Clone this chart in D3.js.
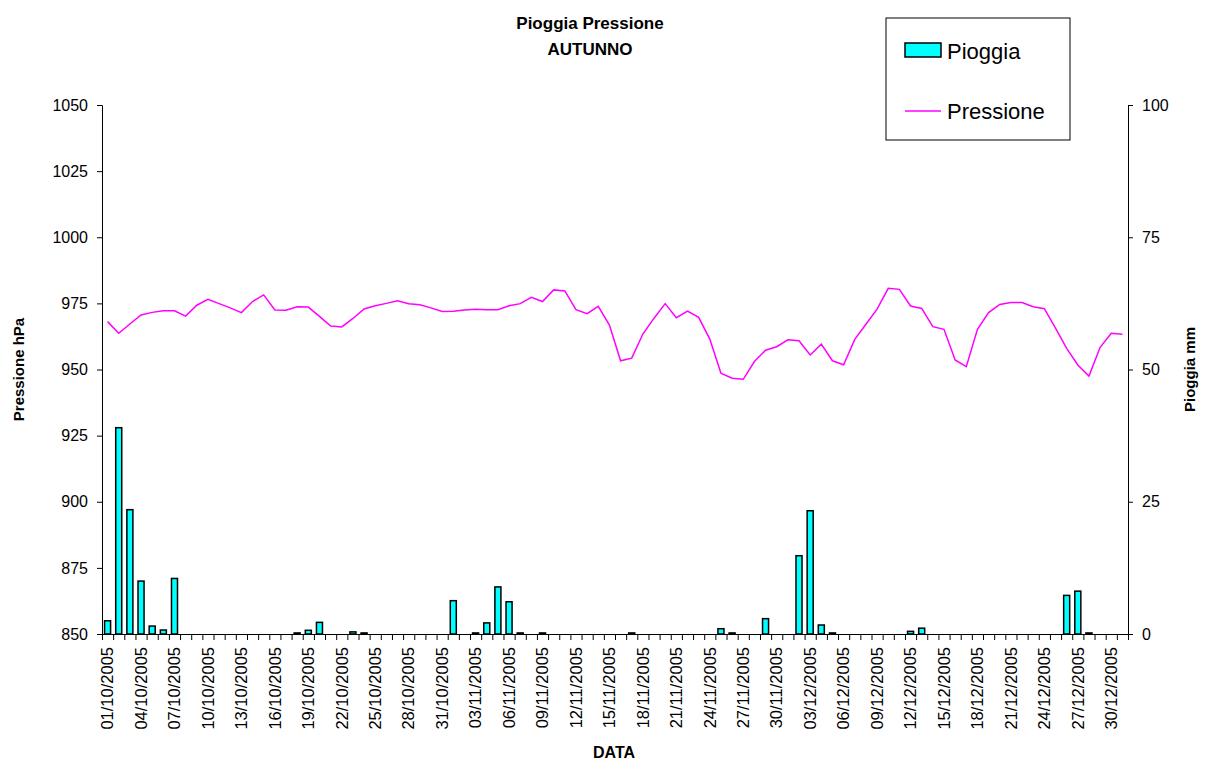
<!DOCTYPE html>
<html>
<head>
<meta charset="utf-8">
<script src="https://cdn.jsdelivr.net/npm/d3@7"></script>
<style>
  body { margin: 0; background: #fff; }
  text { font-family: "Liberation Sans", Arial, sans-serif; }
</style>
</head>
<body>
<div class="chart"></div>
<script>
// daily rain (mm) per month
const rainOct = [2.5, 39.0, 23.5, 10.0, 1.5, 0.75, 10.5, 0, 0, 0,
  0, 0, 0, 0, 0, 0, 0, 0.2, 0.7, 2.2,
  0, 0, 0.4, 0.2, 0, 0, 0, 0, 0, 0, 0];
const rainNov = [6.3, 0, 0.2, 2.1, 8.9, 6.1, 0.2, 0, 0.2, 0,
  0, 0, 0, 0, 0, 0, 0.2, 0, 0, 0,
  0, 0, 0, 0, 1.0, 0.2, 0, 0, 2.9, 0];
const rainDec = [0, 14.8, 23.3, 1.7, 0.2, 0, 0, 0, 0, 0,
  0, 0.5, 1.1, 0, 0, 0, 0, 0, 0, 0,
  0, 0, 0, 0, 0, 7.3, 8.1, 0.2, 0, 0, 0];

// daily pressure (hPa) per month
const pressOct = [968.1, 963.7, 967.2, 970.6, 971.6, 972.2, 972.2, 970.2, 974.3, 976.5,
  974.9, 973.3, 971.5, 975.7, 978.2, 972.5, 972.4, 973.7, 973.6, 970.1,
  966.4, 966.1, 969.3, 972.9, 974.1, 975.0, 976.0, 974.9, 974.5, 973.3, 971.9];
const pressNov = [972.0, 972.5, 972.8, 972.6, 972.6, 974.1, 974.9, 977.3, 975.7, 980.1,
  979.7, 972.6, 971.1, 973.9, 966.8, 953.3, 954.3, 963.4, 969.4, 974.9,
  969.6, 972.1, 969.7, 961.5, 948.6, 946.7, 946.3, 953.0, 957.3, 958.6];
const pressDec = [961.2, 960.9, 955.5, 959.6, 953.3, 951.8, 961.4, 967.1, 972.8, 980.7,
  980.3, 974.0, 973.1, 966.2, 965.2, 953.6, 951.1, 965.2, 971.5, 974.6,
  975.3, 975.3, 973.7, 973.0, 965.6, 958.0, 951.7, 947.5, 958.4, 963.7, 963.3];

const pressTicks = [850, 875, 900, 925, 950, 975, 1000, 1025, 1050];
const rainTicks = [0, 25, 50, 75, 100];

const fmtDay = d3.timeFormat("%d/%m/%Y");
const days = d3.timeDay.range(new Date(2005, 9, 1), new Date(2006, 0, 1)).map(fmtDay);
const rain = rainOct.concat(rainNov, rainDec);
const press = pressOct.concat(pressNov, pressDec);
const data = days.map((d, i) => ({date: d, rain: rain[i], press: press[i]}));

const margin = {top: 105, bottom: 128, left: 102, right: 78};
const width = 1206 - margin.left - margin.right,
  height = 762 - margin.top - margin.bottom;

const svgRoot = d3.select(".chart").append("svg")
  .attr("width", 1206)
  .attr("height", 762);
const svg = svgRoot.append("g")
  .attr("transform", "translate(" + margin.left + "," + margin.top + ")");

const xScale = d3.scaleBand().domain(days).range([0, width])
  .paddingInner(0.46).paddingOuter(0.23);
const xIdx = d3.scaleLinear().domain([0, days.length]).range([0, width]);
const yP = d3.scaleLinear().domain([850, 1050]).range([height, 0]);
const yR = d3.scaleLinear().domain([0, 100]).range([height, 0]);

// bars
svg.selectAll("rect.bar")
  .data(data.filter(d => d.rain > 0))
  .enter()
  .append("rect")
  .attr("class", "bar")
  .attr("x", d => xScale(d.date))
  .attr("width", xScale.bandwidth())
  .attr("y", d => yR(d.rain))
  .attr("height", d => height - yR(d.rain))
  .attr("fill", "#00ffff")
  .attr("stroke", "black")
  .attr("stroke-width", 1.5);

// pressure line
const line = d3.line()
  .x(d => xScale(d.date) + xScale.bandwidth() / 2)
  .y(d => yP(d.press));

svg.append("path")
  .datum(data)
  .attr("d", line)
  .attr("fill", "none")
  .attr("stroke", "#ff00ff")
  .attr("stroke-width", 1.5);

// axes
const styleAxis = g => {
  g.selectAll("text").attr("font-size", 16).attr("fill", "black")
    .attr("font-family", "Liberation Sans, Arial, sans-serif");
  g.selectAll("line, path").attr("stroke", "black");
};

svg.append("g")
  .call(d3.axisLeft(yP).tickValues(pressTicks).tickFormat(d3.format("d"))
    .tickSize(5).tickPadding(9))
  .call(styleAxis);

svg.append("g")
  .attr("transform", `translate(${width},0)`)
  .call(d3.axisRight(yR).tickValues(rainTicks).tickFormat(d3.format("d"))
    .tickSize(5).tickPadding(9))
  .call(styleAxis);

// category boundary ticks
svg.append("g")
  .attr("transform", `translate(0,${height})`)
  .call(d3.axisBottom(xIdx).tickValues(d3.range(days.length + 1))
    .tickSize(6).tickFormat(""))
  .call(styleAxis);

// date labels every third day
svg.append("g")
  .attr("transform", `translate(0,${height})`)
  .call(d3.axisBottom(xScale).tickValues(days.filter((d, i) => i % 3 === 0)).tickSize(0))
  .call(g => g.select(".domain").remove())
  .call(styleAxis)
  .call(g => g.selectAll("text")
    .attr("transform", "rotate(-90)")
    .attr("text-anchor", "end")
    .attr("x", -13)
    .attr("y", 0)
    .attr("dy", "0.35em")
    .attr("font-size", 16.5));

// titles
svgRoot.append("text")
  .attr("x", 590).attr("y", 29)
  .attr("text-anchor", "middle")
  .attr("font-weight", "bold").attr("font-size", 17)
  .text("Pioggia Pressione");
svgRoot.append("text")
  .attr("x", 590).attr("y", 55)
  .attr("text-anchor", "middle")
  .attr("font-weight", "bold").attr("font-size", 17)
  .text("AUTUNNO");

svgRoot.append("text")
  .attr("transform", `translate(24,${margin.top + height / 2}) rotate(-90)`)
  .attr("text-anchor", "middle")
  .attr("font-weight", "bold").attr("font-size", 15)
  .text("Pressione hPa");
svgRoot.append("text")
  .attr("transform", `translate(1195,${margin.top + height / 2}) rotate(-90)`)
  .attr("text-anchor", "middle")
  .attr("font-weight", "bold").attr("font-size", 15)
  .text("Pioggia mm");
svgRoot.append("text")
  .attr("x", 614).attr("y", 758)
  .attr("text-anchor", "middle")
  .attr("font-weight", "bold").attr("font-size", 16)
  .text("DATA");

// legend
const legend = svgRoot.append("g").attr("transform", "translate(886,18)");
legend.append("rect")
  .attr("width", 184).attr("height", 122)
  .attr("fill", "white").attr("stroke", "black");
legend.append("rect")
  .attr("x", 19).attr("y", 25).attr("width", 36).attr("height", 14)
  .attr("fill", "#00ffff").attr("stroke", "black").attr("stroke-width", 1.5);
legend.append("text")
  .attr("x", 61).attr("y", 41).attr("font-size", 22)
  .text("Pioggia");
legend.append("line")
  .attr("x1", 19).attr("x2", 55).attr("y1", 93).attr("y2", 93)
  .attr("stroke", "#ff00ff").attr("stroke-width", 1.5);
legend.append("text")
  .attr("x", 61).attr("y", 101).attr("font-size", 22)
  .text("Pressione");
</script>
</body>
</html>
